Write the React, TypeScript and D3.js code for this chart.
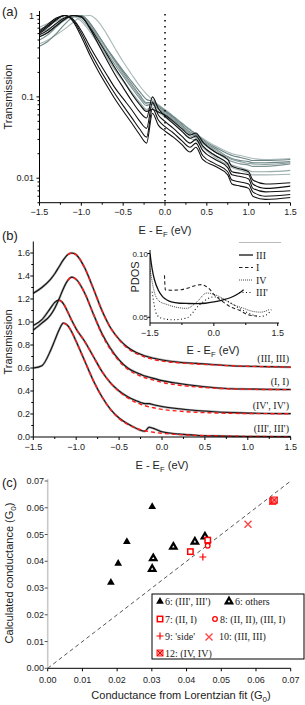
import React from "react";
import * as d3 from "d3";

// ---------------- Panel (a): normalized transmission (log) ----------------
const energyA = [-1.5,-1.4,-1.3,-1.2,-1.1,-1.0,-0.9,-0.8,-0.7,-0.6,-0.5,-0.4,-0.3,-0.22,-0.15,-0.08,0,0.1,0.2,0.3,0.37,0.45,0.6,0.75,0.8,0.9,1.0,1.05,1.2,1.5];
const blackA1 = [0.60,0.72,0.88,1.0,0.85,0.55,0.33,0.21,0.14,0.095,0.067,0.048,0.034,0.027,0.063,0.045,0.038,0.032,0.026,0.021,0.024,0.017,0.014,0.011,0.0085,0.008,0.0075,0.006,0.0055,0.0058];
const blackA2 = [0.62,0.75,0.9,1.0,0.88,0.6,0.37,0.24,0.16,0.11,0.078,0.056,0.04,0.032,0.072,0.052,0.043,0.036,0.029,0.024,0.027,0.019,0.015,0.012,0.0095,0.009,0.0085,0.0068,0.006,0.0063];
const blackA3 = [0.65,0.78,0.93,1.0,0.9,0.65,0.42,0.28,0.19,0.13,0.095,0.07,0.05,0.041,0.085,0.06,0.05,0.041,0.033,0.027,0.03,0.022,0.017,0.0135,0.011,0.0105,0.0098,0.0075,0.0068,0.007];
const blackA4 = [0.55,0.62,0.75,0.9,1.0,0.97,0.7,0.45,0.29,0.19,0.13,0.09,0.065,0.055,0.1,0.072,0.058,0.047,0.038,0.031,0.033,0.025,0.019,0.015,0.012,0.0115,0.011,0.0085,0.0075,0.008];
const blackA5 = [0.58,0.66,0.8,0.93,1.0,0.95,0.72,0.5,0.34,0.23,0.16,0.11,0.08,0.066,0.07,0.065,0.06,0.05,0.041,0.034,0.036,0.028,0.021,0.017,0.014,0.013,0.012,0.0095,0.0085,0.0088];
const grayA1 = [0.45,0.5,0.58,0.68,0.82,0.97,1.0,0.85,0.6,0.4,0.27,0.19,0.135,0.108,0.092,0.08,0.07,0.058,0.048,0.04,0.035,0.031,0.025,0.021,0.02,0.019,0.018,0.0175,0.017,0.0175];
const grayA2 = [0.42,0.48,0.6,0.78,0.95,1.0,0.82,0.58,0.4,0.28,0.2,0.145,0.105,0.085,0.085,0.075,0.066,0.055,0.045,0.037,0.034,0.029,0.023,0.0185,0.0175,0.0165,0.016,0.0155,0.0155,0.016];
const grayA3 = [0.5,0.58,0.72,0.88,1.0,0.98,0.76,0.53,0.36,0.25,0.18,0.13,0.095,0.078,0.082,0.07,0.062,0.052,0.043,0.035,0.033,0.027,0.021,0.017,0.016,0.015,0.0145,0.014,0.014,0.015];
const grayA4 = [0.68,0.75,0.85,0.95,1.0,0.9,0.68,0.47,0.32,0.22,0.16,0.115,0.085,0.07,0.075,0.066,0.058,0.049,0.04,0.033,0.031,0.025,0.019,0.0155,0.0145,0.0135,0.0125,0.012,0.012,0.0125];
const grayA5 = [0.72,0.8,0.9,1.0,0.98,0.85,0.64,0.45,0.31,0.215,0.155,0.112,0.083,0.068,0.07,0.064,0.056,0.047,0.038,0.031,0.029,0.024,0.018,0.0145,0.0135,0.0125,0.0115,0.011,0.011,0.0112];
const grayA6 = [0.55,0.62,0.74,0.88,0.99,1.0,0.8,0.57,0.4,0.29,0.21,0.155,0.115,0.093,0.088,0.078,0.068,0.057,0.047,0.039,0.035,0.03,0.024,0.02,0.019,0.018,0.017,0.0165,0.0165,0.017];
const grayA7 = [0.62,0.68,0.78,0.9,0.99,0.97,0.78,0.56,0.39,0.27,0.19,0.138,0.1,0.082,0.08,0.072,0.064,0.054,0.044,0.036,0.032,0.028,0.022,0.018,0.017,0.016,0.0152,0.015,0.0148,0.0155];

// ---------------- Panel (b): transmission curves + Lorentzian fits ----------------
const energyB = [-1.5,-1.4,-1.3,-1.25,-1.2,-1.15,-1.1,-1.05,-1.0,-0.9,-0.8,-0.7,-0.6,-0.5,-0.4,-0.3,-0.25,-0.2,-0.15,-0.1,0,0.2,0.4,0.6,0.8,1.0,1.2,1.5];
const transIII = [1.25,1.30,1.37,1.42,1.48,1.54,1.585,1.60,1.585,1.47,1.29,1.10,0.95,0.85,0.78,0.735,0.72,0.705,0.695,0.685,0.67,0.65,0.64,0.63,0.62,0.615,0.612,0.608];
const fitIII = [null,null,null,null,null,null,1.585,1.60,1.585,1.47,1.29,1.10,0.95,0.845,0.77,0.725,0.71,0.695,0.685,0.675,0.66,0.645,0.635,0.627,0.62,0.615,0.612,0.608];
const transI = [0.93,0.99,1.06,1.12,1.20,1.29,1.36,1.39,1.37,1.25,1.07,0.90,0.77,0.67,0.60,0.56,0.545,0.53,0.52,0.51,0.49,0.465,0.445,0.43,0.42,0.417,0.415,0.413];
const fitI = [null,null,null,null,null,null,1.36,1.39,1.37,1.25,1.07,0.89,0.76,0.66,0.59,0.545,0.53,0.515,0.505,0.495,0.475,0.45,0.435,0.425,0.418,0.415,0.413,0.412];
const transIV = [0.97,1.02,1.12,1.17,1.19,1.16,1.09,1.01,0.94,0.83,0.70,0.57,0.47,0.40,0.35,0.315,0.30,0.29,0.29,0.28,0.265,0.245,0.23,0.22,0.213,0.208,0.205,0.203];
const fitIV = [null,null,null,null,1.19,1.16,1.09,1.01,0.94,0.83,0.70,0.57,0.47,0.395,0.34,0.30,0.285,0.272,0.262,0.254,0.24,0.225,0.215,0.209,0.206,0.204,0.203,0.202];
const transIIIp = [0.60,0.62,0.75,0.84,0.93,0.99,0.97,0.91,0.83,0.66,0.49,0.35,0.24,0.165,0.115,0.075,0.058,0.05,0.085,0.075,0.045,0.025,0.015,0.01,0.007,0.005,0.004,0.003];
const fitIIIp = [null,null,null,null,null,0.99,0.97,0.91,0.83,0.66,0.49,0.35,0.24,0.16,0.11,0.075,0.063,0.054,0.047,0.041,0.032,0.021,0.014,0.01,0.007,0.005,0.004,0.003];
const curveLabelsB = ["(III, III)", "(I, I)", "(IV', IV')", "(III', III')"];
const curveTailsB = [0.608, 0.413, 0.203, 0.003];

// inset PDOS
const pdosE_III = [-1.5,-1.45,-1.4,-1.3,-1.2,-1.1,-1.0,-0.8,-0.6,-0.4,-0.2,0,0.2,0.4,0.6,0.7];
const pdos_III = [0.100,0.088,0.080,0.071,0.066,0.0635,0.062,0.061,0.0608,0.0607,0.061,0.062,0.0635,0.0655,0.069,0.0715];
const pdosE_I = [-1.16,-1.14,-1.0,-0.8,-0.6,-0.4,-0.3,-0.2,-0.1,0,0.2,0.4,0.6,0.8,1.0];
const pdos_I = [0.083,0.0715,0.0712,0.0715,0.073,0.0752,0.0756,0.0745,0.072,0.068,0.0625,0.058,0.0555,0.052,0.051];
const pdosE_IV = [-1.5,-1.4,-1.3,-1.1,-0.9,-0.64,-0.4,-0.17,0,0.14,0.45,0.7,0.93,1.1,1.3];
const pdos_IV = [0.088,0.07,0.063,0.06,0.058,0.057,0.062,0.069,0.068,0.066,0.06,0.057,0.0545,0.054,0.056];
const pdosE_IIIp = [-1.45,-1.34,-1.2,-0.95,-0.64,-0.33,0,0.3,0.6,0.9,1.08,1.24,1.35];
const pdos_IIIp = [0.07,0.052,0.049,0.048,0.0494,0.06,0.066,0.063,0.057,0.052,0.0506,0.052,0.056];
const insetLegend = ["III", "I", "IV", "III'"];

// ---------------- Panel (c): conductance scatter ----------------
const gFitIIIp = [0.0182, 0.0203, 0.0228, 0.0301];
const gCalcIIIp = [0.0321, 0.0392, 0.0473, 0.0604];
const gFitOthers = [0.0301, 0.0304, 0.0362, 0.0424, 0.0453];
const gCalcOthers = [0.0371, 0.0411, 0.0454, 0.0473, 0.0492];
const gFit7 = [0.0411, 0.0461];
const gCalc7 = [0.0436, 0.0479];
const gFit8 = [0.0461, 0.0461];
const gCalc8 = [0.0469, 0.0458];
const gFit9 = [0.0447];
const gCalc9 = [0.0416];
const gFit10 = [0.0577];
const gCalc10 = [0.0538];
const gFit12 = [0.0648, 0.0651, 0.0653];
const gCalc12 = [0.0624, 0.0627, 0.0629];
const ticksC = [0, 0.01, 0.02, 0.03, 0.04, 0.05, 0.06, 0.07];

const SANS = "'Liberation Sans', Arial, sans-serif";
const SERIF = "'Liberation Serif', 'Times New Roman', serif";
const TXT = "#222";

function pairs(xs: number[], ys: (number | null)[]) {
  return xs.map((x, i) => [x, ys[i]] as [number, number | null]);
}

const EF = ({ x, y, size = 11, anchor = "middle" }: any) => (
  <text x={x} y={y} fontFamily={SANS} fontSize={size} fill={TXT} textAnchor={anchor}>
    E - E<tspan dy={3} fontSize={size * 0.7}>F</tspan><tspan dy={-3}> (eV)</tspan>
  </text>
);

function PanelA() {
  const x = d3.scaleLinear().domain([-1.5, 1.5]).range([39.5, 290.5]);
  const y = d3.scaleLog().domain([0.005, 1.09]).range([202.7, 12.5]);
  const line = d3.line<[number, number]>().x(d => x(d[0])).y(d => y(d[1])).curve(d3.curveMonotoneX);
  const grays = [
    { d: grayA1, c: "#a9b8b8" }, { d: grayA2, c: "#6f8787" }, { d: grayA3, c: "#7d9393" },
    { d: grayA4, c: "#9aabab" }, { d: grayA5, c: "#a3b3b3" }, { d: grayA6, c: "#6a8282" }, { d: grayA7, c: "#889c9c" },
  ];
  const blacks = [blackA5, blackA4, blackA3, blackA2, blackA1];
  const majorX = d3.range(-1.5, 1.51, 0.5);
  const minorX = d3.range(-1.25, 1.3, 0.5);
  const majorY = [0.01, 0.1, 1];
  const minorY: number[] = [];
  [0.001, 0.01, 0.1].forEach(dec => { for (let k = 2; k <= 9; k++) { const v = k * dec; if (v >= 0.005 && v <= 1.09) minorY.push(v); } });
  return (
    <g>
      <clipPath id="clipA"><rect x={39.5} y={10} width={251} height={192.7} /></clipPath>
      <g clipPath="url(#clipA)" fill="none">
        {grays.map((g, i) => <path key={"g" + i} d={line(energyA.map((e, j) => [e, g.d[j]]) as any)!} stroke={g.c} strokeWidth={1.1} />)}
        {blacks.map((b, i) => <path key={"b" + i} d={line(energyA.map((e, j) => [e, b[j]]) as any)!} stroke="#111" strokeWidth={1.1} />)}
      </g>
      <line x1={x(0)} x2={x(0)} y1={14} y2={202} stroke="#000" strokeWidth={1.5} strokeDasharray="1.5,4.5" />
      <line x1={39.5} x2={39.5} y1={11} y2={202.7} stroke="#000" strokeWidth={1} />
      <line x1={39.5} x2={290.5} y1={202.7} y2={202.7} stroke="#000" strokeWidth={1} />
      {majorX.map(v => <line key={"mx" + v} x1={x(v)} x2={x(v)} y1={202.7} y2={205.7} stroke="#000" />)}
      {minorX.map(v => <line key={"nx" + v} x1={x(v)} x2={x(v)} y1={202.7} y2={204.7} stroke="#000" />)}
      {majorX.map(v => <text key={"tx" + v} x={x(v)} y={215} fontFamily={SANS} fontSize={9} fill={TXT} textAnchor="middle">{d3.format(".1f")(v)}</text>)}
      {majorY.map(v => <line key={"my" + v} x1={36.5} x2={39.5} y1={y(v)} y2={y(v)} stroke="#000" />)}
      {minorY.map(v => <line key={"ny" + v} x1={37.5} x2={39.5} y1={y(v)} y2={y(v)} stroke="#000" />)}
      {majorY.map(v => <text key={"ty" + v} x={34} y={y(v) + 3} fontFamily={SANS} fontSize={9} fill={TXT} textAnchor="end">{String(v)}</text>)}
      <text x={2} y={16} fontFamily={SANS} fontSize={13} fill={TXT}>(a)</text>
      <text transform="translate(12,97) rotate(-90)" fontFamily={SANS} fontSize={11} fill={TXT} textAnchor="middle">Transmission</text>
      <EF x={165} y={234} />
    </g>
  );
}

function PanelB() {
  const x = d3.scaleLinear().domain([-1.5, 1.5]).range([33.3, 290.7]);
  const y = d3.scaleLinear().domain([0, 1.7]).range([437, 241.5]);
  const line = d3.line<[number, number | null]>().defined(d => d[1] != null).x(d => x(d[0])).y(d => y(d[1] as number)).curve(d3.curveMonotoneX);
  const sets = [
    { t: transIII, f: fitIII }, { t: transI, f: fitI }, { t: transIV, f: fitIV }, { t: transIIIp, f: fitIIIp },
  ];
  const majorX = d3.range(-1.5, 1.51, 0.5);
  const minorX = d3.range(-1.25, 1.3, 0.5);
  const majorY = d3.range(0, 1.61, 0.2);
  const minorY = d3.range(0.1, 1.7, 0.2);

  // inset
  const xi = d3.scaleLinear().domain([-1.5, 1.5]).range([150, 277.7]);
  const yi = d3.scaleLinear().domain([0.0455, 0.1]).range([323, 253.5]);
  const li = d3.line<[number, number | null]>().x(d => xi(d[0])).y(d => yi(d[1] as number)).curve(d3.curveMonotoneX);
  const legStyles = [
    { dash: "none", w: 1.3, c: "#111" }, { dash: "3.5,2.5", w: 1.1, c: "#222" },
    { dash: "1,1", w: 1, c: "#444" }, { dash: "1,2.5", w: 1.1, c: "#111" },
  ];
  return (
    <g>
      <g fill="none">
        {sets.map((s, i) => <path key={"h" + i} d={line(pairs(energyB, s.t))!} stroke="#a8a8a8" strokeWidth={2.3} />)}
        {sets.map((s, i) => <path key={"k" + i} d={line(pairs(energyB, s.t))!} stroke="#111" strokeWidth={1.1} />)}
        {sets.map((s, i) => <path key={"r" + i} d={line(pairs(energyB, s.f))!} stroke="#ff1a1a" strokeWidth={1.4} strokeDasharray="4,3" />)}
      </g>
      {curveLabelsB.map((lb, i) => (
        <text key={lb} x={289} y={y(curveTailsB[i]) - 5} fontFamily={SERIF} fontSize={10} fill={TXT} textAnchor="end">{lb}</text>
      ))}
      <line x1={33.3} x2={33.3} y1={241.5} y2={437} stroke="#000" />
      <line x1={33.3} x2={290.7} y1={437} y2={437} stroke="#000" />
      {majorX.map(v => <line key={"mx" + v} x1={x(v)} x2={x(v)} y1={437} y2={440} stroke="#000" />)}
      {minorX.map(v => <line key={"nx" + v} x1={x(v)} x2={x(v)} y1={437} y2={439} stroke="#000" />)}
      {majorX.map(v => <text key={"tx" + v} x={x(v)} y={450} fontFamily={SANS} fontSize={9} fill={TXT} textAnchor="middle">{d3.format(".1f")(v)}</text>)}
      {majorY.map(v => <line key={"my" + v} x1={30.3} x2={33.3} y1={y(v)} y2={y(v)} stroke="#000" />)}
      {minorY.map(v => <line key={"ny" + v} x1={31.3} x2={33.3} y1={y(v)} y2={y(v)} stroke="#000" />)}
      {majorY.map(v => <text key={"ty" + v} x={30} y={y(v) + 3} fontFamily={SANS} fontSize={9} fill={TXT} textAnchor="end">{d3.format(".1f")(v)}</text>)}
      <text x={2} y={240} fontFamily={SANS} fontSize={13} fill={TXT}>(b)</text>
      <text transform="translate(12,342) rotate(-90)" fontFamily={SANS} fontSize={11} fill={TXT} textAnchor="middle">Transmission</text>
      <EF x={162} y={469} />

      {/* inset */}
      <clipPath id="clipI"><rect x={150} y={251} width={128} height={72} /></clipPath>
      <g clipPath="url(#clipI)" fill="none">
        <path d={li(pairs(pdosE_IIIp, pdos_IIIp))!} stroke={legStyles[3].c} strokeWidth={legStyles[3].w} strokeDasharray={legStyles[3].dash} />
        <path d={li(pairs(pdosE_IV, pdos_IV))!} stroke={legStyles[2].c} strokeWidth={legStyles[2].w} strokeDasharray={legStyles[2].dash} />
        <path d={li(pairs(pdosE_I, pdos_I))!} stroke={legStyles[1].c} strokeWidth={legStyles[1].w} strokeDasharray={legStyles[1].dash} />
        <path d={li(pairs(pdosE_III, pdos_III))!} stroke={legStyles[0].c} strokeWidth={legStyles[0].w} />
      </g>
      <line x1={150} x2={150} y1={250} y2={323} stroke="#000" />
      <line x1={150} x2={279} y1={323} y2={323} stroke="#000" />
      {[-1.5, 0, 1.5].map(v => <line key={"ix" + v} x1={xi(v)} x2={xi(v)} y1={323} y2={326} stroke="#000" />)}
      {[-0.75, 0.75].map(v => <line key={"inx" + v} x1={xi(v)} x2={xi(v)} y1={323} y2={325} stroke="#000" />)}
      {[-1.5, 0, 1.5].map(v => <text key={"itx" + v} x={xi(v)} y={336} fontFamily={SANS} fontSize={9} fill={TXT} textAnchor="middle">{d3.format(".1f")(v)}</text>)}
      {[0.05, 0.1].map(v => <line key={"iy" + v} x1={147.5} x2={150} y1={yi(v)} y2={yi(v)} stroke="#000" />)}
      {[0.05, 0.1].map(v => <text key={"ity" + v} x={148} y={yi(v) + 3} fontFamily={SANS} fontSize={8} fill={TXT} textAnchor="end">{d3.format(".2f")(v)}</text>)}
      <text transform="translate(139,277) rotate(-90)" fontFamily={SANS} fontSize={11} fill={TXT} textAnchor="middle">PDOS</text>
      <EF x={213} y={354} />
      <line x1={239} x2={281} y1={242.5} y2={242.5} stroke="#bbb" strokeWidth={1} />
      {insetLegend.map((lb, i) => {
        const yy = 255 + i * 12.5;
        const s = legStyles[i];
        return (
          <g key={lb}>
            <line x1={239} x2={253} y1={yy} y2={yy} stroke={s.c} strokeWidth={s.w} strokeDasharray={s.dash} />
            <text x={256} y={yy + 3.5} fontFamily={SERIF} fontSize={10} fill={TXT}>{lb}</text>
          </g>
        );
      })}
    </g>
  );
}

const sym = (type: any, size: number) => d3.symbol().type(type).size(size)()!;

function MarkerTriFilled({ x, y }: any) { return <path transform={`translate(${x},${y})`} d={sym(d3.symbolTriangle, 26)} fill="#000" />; }
function MarkerTriOpen({ x, y }: any) { return <path transform={`translate(${x},${y})`} d={sym(d3.symbolTriangle, 18)} fill="#fff" stroke="#000" strokeWidth={2.2} />; }
function MarkerSquare({ x, y }: any) { return <rect x={x - 2.7} y={y - 2.7} width={5.4} height={5.4} fill="#fff" stroke="#f00" strokeWidth={1.5} />; }
function MarkerCircle({ x, y }: any) { return <circle cx={x} cy={y} r={2.3} fill="#fff" stroke="#f00" strokeWidth={1.3} />; }
function MarkerPlus({ x, y }: any) { return <path transform={`translate(${x},${y})`} d="M-3.5,0H3.5M0,-3.5V3.5" stroke="#f00" strokeWidth={1.2} />; }
function MarkerX({ x, y }: any) { return <path transform={`translate(${x},${y})`} d="M-3.5,-3.5L3.5,3.5M-3.5,3.5L3.5,-3.5" stroke="#f44" strokeWidth={1.4} />; }
function Marker12({ x, y }: any) {
  return (
    <g transform={`translate(${x},${y})`}>
      <rect x={-3} y={-3} width={6} height={6} fill="#ff9090" stroke="#f22" strokeWidth={1} />
      <path d="M-3,-3L3,3M-3,3L3,-3" stroke="#e00" strokeWidth={1} />
    </g>
  );
}

function PanelC() {
  const x = d3.scaleLinear().domain([0, 0.07]).range([47.7, 290.7]);
  const y = d3.scaleLinear().domain([0, 0.07]).range([668.3, 481]);
  const f2 = d3.format(".2f");
  return (
    <g>
      <line x1={x(0)} y1={y(0)} x2={x(0.07)} y2={y(0.07)} stroke="#555" strokeWidth={1} strokeDasharray="4,3" />
      <line x1={47.7} x2={47.7} y1={479} y2={668.3} stroke="#c8c8c8" strokeWidth={1.6} />
      <line x1={47.7} x2={290.7} y1={668.3} y2={668.3} stroke="#000" />
      {ticksC.map(v => <line key={"xt" + v} x1={x(v)} x2={x(v)} y1={668.3} y2={671.3} stroke="#000" />)}
      {ticksC.map(v => <text key={"xl" + v} x={x(v)} y={682.5} fontFamily={SANS} fontSize={9} fill={TXT} textAnchor="middle">{f2(v)}</text>)}
      {ticksC.map(v => <line key={"yt" + v} x1={44.7} x2={47.7} y1={y(v)} y2={y(v)} stroke="#555" />)}
      {ticksC.map(v => <text key={"yl" + v} x={44} y={y(v) + 3} fontFamily={SANS} fontSize={9} fill={TXT} textAnchor="end">{f2(v)}</text>)}
      {gFitIIIp.map((v, i) => <MarkerTriFilled key={"a" + i} x={x(v)} y={y(gCalcIIIp[i])} />)}
      {gFitOthers.map((v, i) => <MarkerTriOpen key={"b" + i} x={x(v)} y={y(gCalcOthers[i])} />)}
      {gFit8.map((v, i) => <MarkerCircle key={"d" + i} x={x(v)} y={y(gCalc8[i])} />)}
      {gFit7.map((v, i) => <MarkerSquare key={"c" + i} x={x(v)} y={y(gCalc7[i])} />)}
      {gFit9.map((v, i) => <MarkerPlus key={"e" + i} x={x(v)} y={y(gCalc9[i])} />)}
      {gFit10.map((v, i) => <MarkerX key={"f" + i} x={x(v)} y={y(gCalc10[i])} />)}
      {gFit12.map((v, i) => <Marker12 key={"g" + i} x={x(v)} y={y(gCalc12[i])} />)}

      <rect x={152} y={594} width={152} height={65} fill="#fff" stroke="#000" strokeWidth={1} />
      <g fontFamily={SERIF} fontSize={10} fill={TXT}>
        <MarkerTriFilled x={160} y={601.5} />
        <text x={165} y={605}>6: (III', III')</text>
        <MarkerTriOpen x={229} y={601.5} />
        <text x={235} y={605}>6: others</text>
        <MarkerSquare x={160} y={619} />
        <text x={165} y={622.5}>7: (II, I)</text>
        <MarkerCircle x={215} y={619} />
        <text x={220} y={622.5}>8: (II, II), (III, I)</text>
        <MarkerPlus x={160} y={636} />
        <text x={165} y={639.5}>9: 'side'</text>
        <MarkerX x={209} y={637} />
        <text x={219} y={639.5}>10: (III, III)</text>
        <Marker12 x={160} y={653} />
        <text x={165} y={656.5}>12: (IV, IV)</text>
      </g>

      <text x={2} y={487} fontFamily={SANS} fontSize={13} fill={TXT}>(c)</text>
      <text transform="translate(13,573) rotate(-90)" fontFamily={SANS} fontSize={11} fill={TXT} textAnchor="middle">
        Calculated conductance (G<tspan dy={3} fontSize={8}>0</tspan><tspan dy={-3}>)</tspan>
      </text>
      <text x={181} y={699} fontFamily={SANS} fontSize={11} fill={TXT} textAnchor="middle">
        Conductance from Lorentzian fit (G<tspan dy={3} fontSize={8}>0</tspan><tspan dy={-3}>)</tspan>
      </text>
    </g>
  );
}

export default function App() {
  return (
    <svg width={305} height={705} viewBox="0 0 305 705" style={{ position: "absolute", left: 0, top: 0, display: "block", background: "#fff" }}>
      <rect width={305} height={705} fill="#fff" />
      <PanelA />
      <PanelB />
      <PanelC />
    </svg>
  );
}
